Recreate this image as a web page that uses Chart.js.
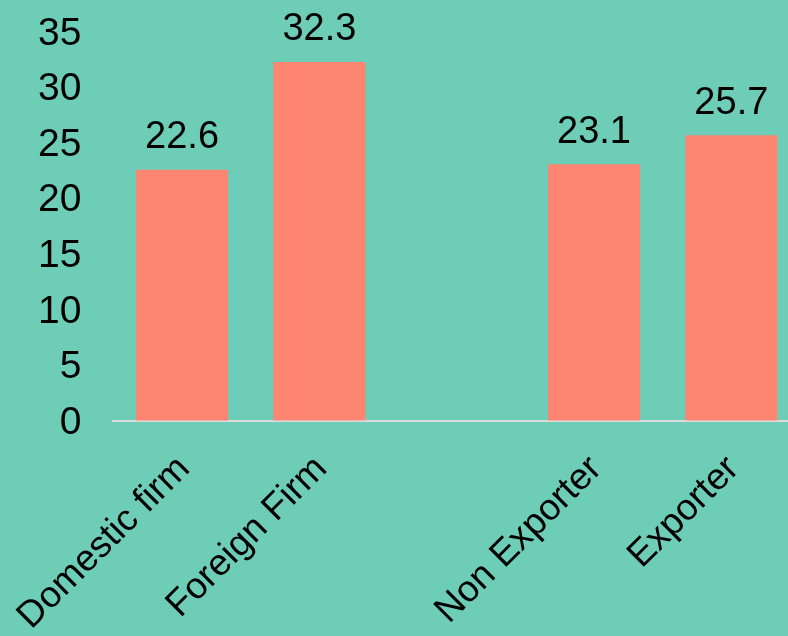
<!DOCTYPE html>
<html>
<head>
<meta charset="utf-8">
<script src="https://cdn.jsdelivr.net/npm/chart.js@4"></script>
<style>
  html, body { margin: 0; padding: 0; overflow: hidden; background: #6dcdb7; }
  #wrap { width: 800px; height: 636px; }
</style>
</head>
<body>
<div id="wrap"><canvas id="chart"></canvas></div>
<script>
const categories = ['Domestic firm', 'Foreign Firm', '', 'Non Exporter', 'Exporter'];
const values = [22.6, 32.3, null, 23.1, 25.7];
const yTicks = [0, 5, 10, 15, 20, 25, 30, 35];

const fontFamily = '"Liberation Sans", Arial, sans-serif';
const fontSize = 38;

// draws the value above each bar
const valueLabels = {
  id: 'valueLabels',
  afterDatasetsDraw(chart) {
    const ctx = chart.ctx;
    const meta = chart.getDatasetMeta(0);
    ctx.save();
    ctx.font = fontSize + 'px ' + fontFamily;
    ctx.fillStyle = '#000';
    ctx.textAlign = 'center';
    ctx.textBaseline = 'bottom';
    meta.data.forEach((bar, i) => {
      if (values[i] == null) return;
      ctx.fillText(values[i].toFixed(1), bar.x, bar.y - 13);
    });
    ctx.restore();
  }
};

// slanted category names under the x axis (drawn here so they don't push the plot area)
const slantedLabels = {
  id: 'slantedLabels',
  afterDraw(chart) {
    const ctx = chart.ctx;
    const xs = chart.scales.x;
    ctx.save();
    ctx.font = '37px ' + fontFamily;
    ctx.fillStyle = '#000';
    ctx.textAlign = 'right';
    ctx.textBaseline = 'middle';
    categories.forEach((name, i) => {
      if (!name) return;
      ctx.save();
      ctx.translate(xs.getPixelForTick(i) + 2, xs.top + 42);
      ctx.rotate(-Math.PI / 4);
      ctx.fillText(name, 0, 0);
      ctx.restore();
    });
    ctx.restore();
  }
};

new Chart(document.getElementById('chart'), {
  type: 'bar',
  data: {
    labels: categories,
    datasets: [{
      data: values,
      backgroundColor: '#fe8572',
      barPercentage: 0.67,
      categoryPercentage: 1
    }]
  },
  options: {
    responsive: true,
    maintainAspectRatio: false,
    animation: false,
    layout: { padding: { top: 32, left: 38, right: 0, bottom: 0 } },
    plugins: { legend: { display: false }, tooltip: { enabled: false } },
    scales: {
      x: {
        grid: { display: false, drawTicks: false },
        border: { display: true, color: '#dcdcdc', width: 2 },
        ticks: { display: false },
        afterFit: (scale) => { scale.height = 215; }
      },
      y: {
        min: 0,
        max: 35,
        afterBuildTicks: (scale) => { scale.ticks = yTicks.map(v => ({ value: v })); },
        grid: { display: true, drawOnChartArea: false, drawTicks: true, tickLength: 32, color: 'rgba(0,0,0,0)' },
        border: { display: false },
        ticks: {
          color: '#000',
          font: { family: fontFamily, size: 39 },
          padding: 0,
          labelOffset: 2
        }
      }
    }
  },
  plugins: [valueLabels, slantedLabels]
});
</script>
</body>
</html>
